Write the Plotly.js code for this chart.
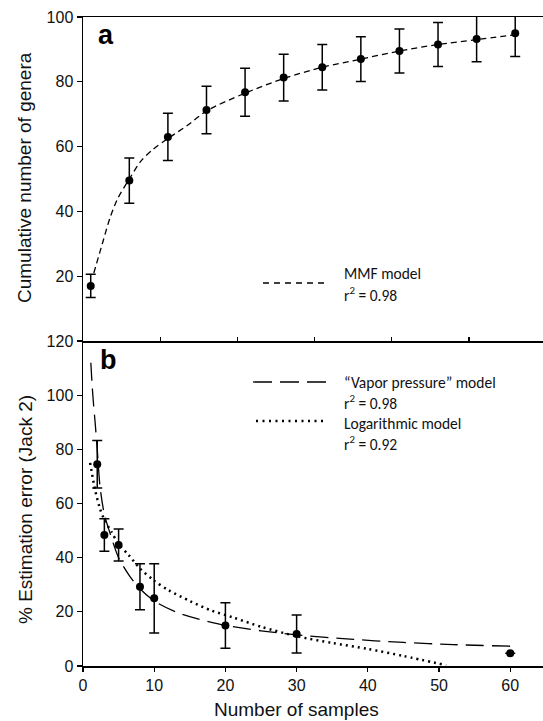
<!DOCTYPE html>
<html>
<head>
<meta charset="utf-8">
<script src="https://cdn.plot.ly/plotly-3.0.1.min.js"></script>
<style>html,body{margin:0;padding:0;background:#fff;}#chart{width:543px;height:721px;}</style>
</head>
<body>
<div id="chart"></div>
<script>
// ---- Panel a: cumulative number of genera ----
const samplesA = [1, 6, 11, 16, 21, 26, 31, 36, 41, 46, 51, 56];
const generaA = [17, 49.5, 63, 71.3, 76.8, 81.3, 84.5, 87, 89.5, 91.5, 93.2, 95];
const generaErrA = [3.6, 7, 7.3, 7.3, 7.4, 7.2, 7, 6.9, 6.8, 6.8, 7, 7.2];
const mmfX = [1.4, 2.5, 3.5, 4.5, 6, 7.5, 9, 11, 13.5, 16, 21, 26, 31, 36, 41, 46, 51, 56];
const mmfY = [21, 30, 38, 44, 50, 55.5, 59, 62.5, 66.5, 71, 76.5, 81, 84.5, 87, 89.5, 91.5, 93, 94.5];

// ---- Panel b: % estimation error (Jack 2) ----
const samplesB = [2, 3, 5, 8, 10, 20, 30, 60];
const errorB = [74.5, 48.4, 44.7, 29.3, 25, 15, 11.8, 4.7];
const errorErrB = [8.8, 6, 5.9, 8.5, 12.8, 8.4, 7, null];
const vaporX = [1.1, 1.3, 1.5, 1.7, 2, 2.4, 3, 3.8, 5, 6.6, 8, 10, 13, 16, 20, 25, 30, 37, 45, 52, 60];
const vaporY = [112, 103, 96, 90, 80, 66, 56, 49, 40, 33, 28.5, 24, 20, 17.5, 15, 13, 11.5, 10, 8.7, 7.9, 7.3];
const logX = [1, 1.7, 2.4, 3, 4, 5, 6.4, 8, 10, 12, 15, 18, 21, 25, 30, 35, 40, 45, 51];
const logY = [75, 65, 58, 54, 49.5, 45, 41, 36, 31.5, 28, 24, 20.5, 18, 14.5, 11, 8.5, 6.3, 3.7, 0.3];

const yTicksA = [20, 40, 60, 80, 100];
const xTicksA = [10, 20, 30, 40, 50];
const yTicksB = [0, 20, 40, 60, 80, 100, 120];
const xTicksB = [0, 10, 20, 30, 40, 50, 60];

const black = '#000';
const tickFont = {family: 'Liberation Sans, Arial, sans-serif', size: 16, color: '#111'};
const titleFont = {family: 'Liberation Sans, Arial, sans-serif', size: 19, color: '#111'};
const legFont = {family: 'Carlito, Lato, sans-serif', size: 15.5, color: '#111'};
const letterFont = {family: 'Liberation Sans, Arial, sans-serif', size: 27, color: black};

// pixel -> paper helpers (plot area: x 83..543, y 17..666)
const PL = 83, PT = 17, PW = 460, PH = 649;
const px = v => (v - PL) / PW;
const py = v => (PT + PH - v) / PH;

const traces = [
  {x: mmfX, y: mmfY, mode: 'lines', line: {color: black, width: 1.3, dash: '6px,4px', shape: 'spline', smoothing: 0.8},
   xaxis: 'x', yaxis: 'y', showlegend: false, hoverinfo: 'skip'},
  {x: samplesA, y: generaA, mode: 'markers', marker: {color: black, size: 8, symbol: 'circle'},
   error_y: {type: 'data', array: generaErrA, visible: true, color: black, thickness: 1.5, width: 5},
   xaxis: 'x', yaxis: 'y', showlegend: false},
  {x: vaporX, y: vaporY, mode: 'lines', line: {color: black, width: 1.3, dash: '18px,8px', shape: 'spline', smoothing: 0.8},
   xaxis: 'x2', yaxis: 'y2', showlegend: false, hoverinfo: 'skip'},
  {x: logX, y: logY, mode: 'lines', line: {color: black, width: 2.5, dash: '2px,4px', shape: 'spline', smoothing: 0.8},
   xaxis: 'x2', yaxis: 'y2', showlegend: false, hoverinfo: 'skip'},
  {x: samplesB, y: errorB, mode: 'markers', marker: {color: black, size: 8, symbol: 'circle'},
   error_y: {type: 'data', array: errorErrB, visible: true, color: black, thickness: 1.5, width: 5},
   xaxis: 'x2', yaxis: 'y2', showlegend: false}
];

const split = (666 - 341) / PH;

function note(text, x, y, font, opts) {
  return Object.assign({text: text, xref: 'paper', yref: 'paper', x: px(x), y: py(y),
    xanchor: 'center', yanchor: 'middle', showarrow: false, font: font}, opts || {});
}

const layout = {
  width: 543, height: 721,
  margin: {l: PL, r: 0, t: PT, b: 721 - PT - PH},
  paper_bgcolor: '#fff', plot_bgcolor: '#fff',
  showlegend: false,
  xaxis: {domain: [0, 1], anchor: 'y', range: [0, 59.6], tickvals: xTicksA, ticks: 'inside', ticklen: 4,
          tickwidth: 1.3, tickcolor: black, showticklabels: false, showline: true, linecolor: black, linewidth: 1.5,
          mirror: true, showgrid: false, zeroline: false},
  yaxis: {domain: [split, 1], anchor: 'x', range: [0, 100], tickvals: yTicksA, ticks: 'outside', ticklen: 5,
          tickwidth: 1.3, tickcolor: black, tickfont: tickFont, showline: true, linecolor: black, linewidth: 1.5,
          showgrid: false, zeroline: false},
  xaxis2: {domain: [0, 1], anchor: 'y2', range: [0, 64.6], tickvals: xTicksB, ticks: 'outside', ticklen: 4,
           tickwidth: 1.3, tickcolor: black, tickfont: tickFont, showline: true, linecolor: black, linewidth: 1.5,
           showgrid: false, zeroline: false},
  yaxis2: {domain: [0, split], anchor: 'x2', range: [0, 120], tickvals: yTicksB, ticks: 'outside', ticklen: 5,
           tickwidth: 1.3, tickcolor: black, tickfont: tickFont, showline: true, linecolor: black, linewidth: 1.5,
           showgrid: false, zeroline: false},
  shapes: [
    {type: 'line', xref: 'paper', yref: 'paper', x0: px(263), x1: px(324), y0: py(283), y1: py(283),
     line: {color: black, width: 1.3, dash: '6px,5px'}},
    {type: 'line', xref: 'paper', yref: 'paper', x0: px(253), x1: px(326), y0: py(382), y1: py(382),
     line: {color: black, width: 1.3, dash: '19px,8px'}},
    {type: 'line', xref: 'paper', yref: 'paper', x0: px(256), x1: px(327), y0: py(421), y1: py(421),
     line: {color: black, width: 2.5, dash: '2px,4.5px'}}
  ],
  annotations: [
    note('<b>a</b>', 106, 35, letterFont),
    note('<b>b</b>', 108, 360, letterFont),
    note('Cumulative number of genera', 25, 178, titleFont, {textangle: -90}),
    note('% Estimation error (Jack 2)', 25, 510, titleFont, {textangle: -90}),
    note('Number of samples', 296, 709, titleFont),
    note('MMF model', 342, 273, legFont, {xanchor: 'left'}),
    note('r<sup>2</sup> = 0.98', 342, 294, legFont, {xanchor: 'left'}),
    note('\u201CVapor pressure\u201D model', 342, 382, legFont, {xanchor: 'left'}),
    note('r<sup>2</sup> = 0.98', 342, 402, legFont, {xanchor: 'left'}),
    note('Logarithmic model', 342, 423, legFont, {xanchor: 'left'}),
    note('r<sup>2</sup> = 0.92', 342, 444, legFont, {xanchor: 'left'})
  ]
};

Plotly.newPlot('chart', traces, layout, {displayModeBar: false, staticPlot: true});
</script>
</body>
</html>
